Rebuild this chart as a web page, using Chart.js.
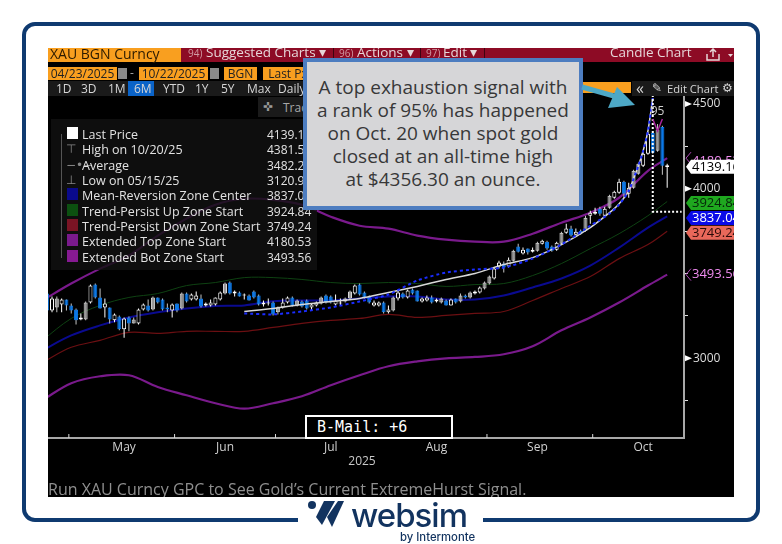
<!DOCTYPE html>
<html>
<head>
<meta charset="utf-8">
<title>XAU BGN Curncy</title>
<script src="https://cdn.jsdelivr.net/npm/chart.js@4"></script>
<style>
html,body{margin:0;padding:0;background:#fff;width:782px;height:544px;overflow:hidden;font-family:"Open Sans",sans-serif}
.abs{position:absolute;white-space:nowrap}
#frame{position:absolute;left:22px;top:22px;width:730px;height:492px;border:4px solid #0f3a70;border-radius:13px}
#panel{position:absolute;left:48px;top:48px;width:686px;height:449px;background:#000;overflow:hidden}
#grafico{position:absolute;left:-10px;top:0}
#panel .abs{font-size:12px;line-height:15px}
.or{background:#f99f1f;color:#222;text-align:center;height:13px;line-height:13px!important;font-size:12px}
.tb{color:#d6d6d6;top:33px}
.red{color:#e6d6d8;font-size:13.5px!important;top:-3px}
.num{color:#d09aa4;font-size:10px!important;top:-2px}
.sep{width:1px;height:14px;top:0;background:#3c0410}
.cal{width:9px;height:11px;top:20px;background:#8a8a8a}
#legend{position:absolute;left:3px;top:71px;width:266px;height:151px;background:rgba(17,17,17,.82)}
#legend .abs{color:#e2e2e2}
#callout{position:absolute;left:303px;top:58px;width:272px;height:130px;border:4px solid #4d7dc0;background:#d6d6d8;color:#383838;font-size:19px;line-height:23px;text-align:center;padding-top:14px;box-sizing:content-box}
#logoGap{position:absolute;left:298px;top:497px;width:185px;height:47px;background:#fff}
</style>
</head>
<body>
<div id="frame"></div>
<div id="panel">
  <canvas id="grafico" width="712" height="449"></canvas>
  <div class="abs" style="left:0;top:0;width:686px;height:14px;background:#8d0b25"></div>
  <div class="abs" style="left:0;top:0;width:133px;height:14px;background:#f99f1f;color:#2a1a00;font-size:14px;line-height:12px;padding-left:2px;box-sizing:border-box">XAU BGN Curncy</div>
  <div class="abs num" style="left:140px">94)</div><div class="abs red" style="left:158px">Suggested Charts &#9662;</div>
  <div class="abs sep" style="left:285px"></div>
  <div class="abs num" style="left:291px">96)</div><div class="abs red" style="left:309px">Actions &#9662;</div>
  <div class="abs sep" style="left:372px"></div>
  <div class="abs num" style="left:378px">97)</div><div class="abs red" style="left:395px">Edit &#9662;</div>
  <div class="abs sep" style="left:436px"></div>
  <div class="abs red" style="left:562px">Candle Chart</div>
  <svg class="abs" style="left:658px;top:0" width="28" height="14">
    <path d="M1 6v6h12V6M7 9V1M4 4l3-3 3 3" fill="none" stroke="#e6d6d8" stroke-width="1.5"/>
    <polygon points="22,6 27,6 24.5,9" fill="#e6d6d8"/>
  </svg>
  <div class="abs or" style="left:0;top:19px;width:69px">04/23/2025</div>
  <div class="abs cal" style="left:70px"></div>
  <div class="abs or" style="left:91px;top:19px;width:69px">10/22/2025</div>
  <div class="abs cal" style="left:162px"></div>
  <div class="abs or" style="left:176px;top:19px;width:33px">BGN</div>
  <div class="abs or" style="left:215px;top:19px;width:50px">Last Px</div>
  <div class="abs" style="left:82px;top:17px;color:#aaa">-</div>
  <div class="abs" style="left:0;top:33px;width:255px;height:15px;background:#1a1a1a"></div>
  <div class="abs" style="left:80px;top:33px;width:26px;height:15px;background:#0a63c8"></div>
  <div class="abs tb" style="left:8px">1D</div><div class="abs tb" style="left:33px">3D</div><div class="abs tb" style="left:60px">1M</div>
  <div class="abs tb" style="left:86px">6M</div><div class="abs tb" style="left:115px">YTD</div><div class="abs tb" style="left:147px">1Y</div>
  <div class="abs tb" style="left:173px">5Y</div><div class="abs tb" style="left:199px">Max</div><div class="abs tb" style="left:230px">Daily</div>
  <div class="abs" style="left:534px;top:34px;width:49px;height:11px;background:#f99f1f"></div>
  <div class="abs" style="left:584px;top:33px;width:102px;height:15px;background:#1a1a1a"></div>
  <div class="abs tb" style="left:588px;font-size:16px!important">&#171;</div><div class="abs tb" style="left:604px;font-family:'DejaVu Sans'">&#9998;</div>
  <div class="abs tb" style="left:619px;font-size:11.2px">Edit Chart</div><div class="abs tb" style="left:674px;font-family:'DejaVu Sans'">&#9881;</div>
  <div class="abs" style="left:210px;top:49px;width:60px;height:20px;background:#1a1a1a;color:#9a9a9a;line-height:20px"></div>
  <div class="abs" style="left:215px;top:52px;color:#9a9a9a;font-family:'DejaVu Sans'">&#10012;</div>
  <div class="abs" style="left:235px;top:52px;color:#a8a8a8">Trac</div>
  <div id="legend"></div>
  <div class="abs" style="left:257px;top:367px;width:144px;height:20px;border:2px solid #fff;background:#000;color:#fff;font:15px/20px 'DejaVu Sans Mono',monospace;text-indent:10px">B-Mail: +6</div>
  <div class="abs" style="left:0;top:431px;color:#8f8f8f;font-size:16px;line-height:20px">Run XAU Curncy GPC to See Gold&#8217;s Current ExtremeHurst Signal.</div>
</div>
<div id="callout">A top exhaustion signal with<br>a rank of 95% has happened<br>on Oct. 20 when spot gold<br>closed at an all-time high<br>at $4356.30 an ounce.</div>
<svg class="abs" style="left:0;top:0" width="782" height="544">
  <line x1="582" y1="87" x2="621" y2="98" stroke="#4da8c6" stroke-width="5"/>
  <polygon points="617,87 608,108 635,105" fill="#4da8c6"/>
</svg>
<div id="logoGap"></div>
<svg class="abs" style="left:0;top:0" width="782" height="544">
  <circle cx="312" cy="505" r="4" fill="#12335f"/>
  <polygon points="324,501 335,501 322,525 316,517" fill="#12335f"/>
  <polygon points="338,501 344,501 332,527 327,517" fill="#12335f"/>
</svg>
<div class="abs" style="left:351px;top:497px;color:#12335f;font:500 33px/36px Inter,Roboto,sans-serif;letter-spacing:-1px">websim</div>
<div class="abs" style="left:400px;top:530px;color:#12335f;font:500 11.3px/14px Inter,Roboto,sans-serif">by Intermonte</div>
<script>
// eje x: dias de mercado
var dates = ['04/23','04/24','04/25','04/28','04/29','04/30',
'05/01','05/02','05/05','05/06','05/07','05/08','05/09','05/12','05/13','05/14','05/15','05/16','05/19','05/20','05/21','05/22','05/23','05/26','05/27','05/28','05/29','05/30',
'06/02','06/03','06/04','06/05','06/06','06/09','06/10','06/11','06/12','06/13','06/16','06/17','06/18','06/19','06/20','06/23','06/24','06/25','06/26','06/27','06/30',
'07/01','07/02','07/03','07/04','07/07','07/08','07/09','07/10','07/11','07/14','07/15','07/16','07/17','07/18','07/21','07/22','07/23','07/24','07/25','07/28','07/29','07/30','07/31',
'08/01','08/04','08/05','08/06','08/07','08/08','08/11','08/12','08/13','08/14','08/15','08/18','08/19','08/20','08/21','08/22','08/25','08/26','08/27','08/28','08/29',
'09/01','09/02','09/03','09/04','09/05','09/08','09/09','09/10','09/11','09/12','09/15','09/16','09/17','09/18','09/19','09/22','09/23','09/24','09/25','09/26','09/29','09/30',
'10/01','10/02','10/03','10/06','10/07','10/08','10/09','10/10','10/13','10/14','10/15','10/16','10/17','10/20','10/21','10/22','10/23','10/24','10/27'];

// velas: h = hueca, g = gris, b = azul
var kinds = ('bbhghbbbhg' + 'hbbhbhbhbg' + 'hhbgbbbhbg' + 'bhhbhhhhgb' + 'hbhbbbhhbg' + 'hhbgbbhhgb' + 'bhhgghbbbh' +
    'hbhghbhbbh' + 'hbhgbhbgbg' + 'hhgghhbhgb' + 'hbhghbbhgh' + 'bhbghhbhgh' + 'hbhgghhbgb' + 'h').split('');
var opens = [3371,3382,3282,3300,3318,3347,3312,3288,3229,3229,3329,3435,3359,3300,3300,3224,3247,3171,3241,3206,3206,3288,3312,3288,3359,3347,3300,3282,3324,3294,3382,3347,3347,3353,3312,3312,3318,3347,3382,3447,3382,3388,3371,3371,3394,3371,3318,3324,3329,3271,3300,3329,3359,3312,3335,3341,3300,3312,3324,3371,3365,3318,3324,3335,3353,3382,3435,3388,3365,3312,3312,3329,3271,3282,3353,3382,3359,3406,3400,3335,3341,3359,3335,3329,3341,3312,3353,3335,3371,3359,3382,3388,3412,3441,3471,3541,3559,3541,3576,3659,3618,3647,3629,3635,3676,3688,3659,3641,3676,3741,3765,3729,3753,3753,3841,3853,3882,3841,3888,3947,3976,4041,3971,4006,4088,4135,4206,4329,4224,4365,4129];
var closes = [3312,3282,3353,3353,3347,3312,3282,3224,3241,3329,3429,3359,3294,3324,3229,3259,3171,3235,3206,3229,3288,3318,3282,3359,3329,3288,3288,3318,3282,3382,3335,3376,3371,3306,3324,3329,3359,3388,3441,3382,3394,3365,3376,3341,3359,3318,3329,3329,3259,3300,3329,3359,3312,3341,3306,3294,3318,3329,3359,3329,3329,3341,3329,3353,3394,3429,3376,3359,3329,3329,3329,3271,3288,3359,3388,3359,3400,3382,3335,3353,3359,3329,3347,3353,3312,3347,3329,3371,3359,3388,3394,3418,3447,3482,3529,3565,3535,3582,3635,3629,3641,3624,3641,3682,3694,3647,3635,3682,3741,3765,3724,3747,3735,3829,3859,3865,3853,3882,3959,3982,4041,3971,4006,4106,4147,4206,4324,4212,4350,4135,4139];
var highs = [3376,3388,3365,3365,3353,3347,3324,3294,3265,3335,3435,3441,3412,3353,3300,3265,3253,3241,3247,3241,3294,3324,3347,3365,3359,3353,3324,3324,3324,3388,3388,3382,3394,3376,3329,3347,3359,3394,3447,3453,3400,3394,3382,3376,3400,3376,3341,3353,3335,3306,3353,3365,3365,3347,3341,3347,3324,3335,3365,3376,3371,3376,3353,3359,3400,3435,3441,3394,3371,3341,3335,3335,3312,3365,3400,3388,3406,3412,3400,3359,3371,3371,3353,3359,3347,3353,3353,3382,3376,3394,3400,3424,3453,3488,3535,3576,3571,3594,3641,3676,3653,3647,3653,3688,3700,3694,3665,3688,3747,3794,3782,3765,3759,3841,3871,3888,3894,3894,3965,3988,4059,4047,4035,4112,4153,4224,4335,4341,4382,4371,4147];
var lows = [3306,3276,3271,3271,3271,3282,3265,3200,3224,3224,3324,3353,3294,3241,3206,3212,3165,3121,3159,3206,3200,3282,3276,3282,3324,3282,3271,3241,3271,3288,3329,3341,3341,3300,3306,3306,3312,3341,3376,3376,3365,3365,3347,3341,3353,3312,3306,3312,3253,3259,3294,3324,3306,3306,3300,3288,3282,3306,3318,3324,3324,3312,3312,3329,3347,3376,3371,3353,3324,3306,3306,3265,3265,3276,3341,3353,3353,3376,3335,3329,3335,3324,3329,3324,3312,3312,3324,3329,3353,3353,3376,3382,3406,3435,3465,3529,3506,3535,3571,3624,3612,3612,3624,3629,3671,3641,3629,3635,3671,3735,3718,3724,3729,3747,3794,3847,3841,3835,3882,3941,3971,3947,3947,4000,4082,4129,4200,4206,4218,4082,4006];

// bandas, leidas cada seis velas
var bandDates = ['04/23','05/01','05/09','05/19','05/27','06/04','06/12','06/20','06/30','07/08','07/16','07/24','08/01','08/11','08/19','08/27','09/04','09/12','09/22','09/30','10/08','10/16','10/22'];
var extTop = [3341,3441,3529,3606,3724,3824,3906,3941,3935,3906,3835,3782,3765,3724,3700,3688,3688,3735,3800,3859,3947,4106,4180.53];
var trendUp = [3106,3235,3312,3359,3382,3429,3447,3476,3476,3465,3447,3441,3447,3441,3424,3435,3441,3488,3559,3647,3735,3841,3924.84];
var meanCenter = [3047,3135,3194,3241,3272,3294,3308,3312,3337,3341,3341,3353,3365,3365,3347,3347,3371,3418,3471,3547,3653,3771,3837.04];
var trendDown = [2976,3065,3106,3153,3147,3159,3159,3159,3182,3206,3224,3235,3259,3241,3253,3265,3276,3341,3412,3482,3588,3671,3749.24];
var extBot = [2753,2853,2894,2900,2831,2782,2735,2703,2735,2776,2841,2900,2953,2982,3000,3008,3024,3071,3165,3241,3329,3429,3493.56];

// curva de tendencia y su copia punteada
var fitDates = ['06/20','06/30','07/08','07/16','07/24','08/01','08/11','08/19','08/27','09/04','09/12','09/22','09/30','10/06','10/08','10/10','10/14','10/15','10/16','10/17'];
var fitWhite = [3276,3294,3318,3335,3353,3388,3424,3465,3500,3553,3594,3671,3771,3859,3912,3988,4135,4224,4341,4535];
var fitBlue = [3265,3259,3276,3300,3335,3376,3459,3506,3524,3535,3588,3671,3782,3853,3906,3988,4135,4224,4341,4535];

// marca de agotamiento y escuadra punteada
var signalDates = ['10/17','10/20','10/21'];
var signalVals = [4412,4341,4412];
var bracketDates = ['10/17','10/17','10/27'];
var bracketVals = [4553,3865,3865];

// ejes
var yTicks = [2750,3000,3250,3500,3750,4000,4250,4500];
var yLabels = [3000,4000,4500];
var monthStarts = ['05/01','06/02','07/01','08/01','09/01','10/01'];
var monthMids = ['05/16','06/16','07/16','08/15','09/15','10/15'];
var monthNames = ['May','Jun','Jul','Aug','Sep','Oct'];

// leyenda
var legendNames = ['Last Price','High on 10/20/25','Average','Low on 05/15/25','Mean-Reversion Zone Center','Trend-Persist Up Zone Start','Trend-Persist Down Zone Start','Extended Top Zone Start','Extended Bot Zone Start'];
var legendVals = ['4139.16','4381.52','3482.29','3120.98','3837.04','3924.84','3749.24','4180.53','3493.56'];
var legendSwatch = ['#fff',null,null,null,'#0a0a8c','#0c5010','#7a1424','#7a1a8c','#861a92'];
var legendGlyph = ['', '\u22A4', '\u2212\u2022\u2212', '\u22A5', '', '', '', '', ''];

var legendBox = document.getElementById('legend');
var html = '<div class="abs" style="left:10px;top:15px;width:1px;height:124px;background:#555"></div>';
for (var i = 0; i < legendNames.length; i++) {
    var rowTop = 8 + i * 15.35;
    if (legendSwatch[i]) {
        html += '<div class="abs" style="left:16px;top:' + rowTop + 'px;width:11px;height:12px;background:' + legendSwatch[i] + '"></div>';
    } else {
        html += '<div class="abs" style="left:15px;top:' + rowTop + 'px;color:#888;font-family:\'DejaVu Sans\'">' + legendGlyph[i] + '</div>';
    }
    html += '<div class="abs" style="left:31px;top:' + rowTop + 'px;font-size:12.5px">' + legendNames[i] + '</div>';
    html += '<div class="abs" style="left:216px;top:' + rowTop + 'px">' + legendVals[i] + '</div>';
}
legendBox.innerHTML = html;

function serie(fechas, valores) {
    var out = [];
    for (var i = 0; i < fechas.length; i++) {
        out.push({x: fechas[i], y: valores[i]});
    }
    return out;
}

var bodyData = [], wickData = [];
for (var j = 0; j < opens.length; j++) {
    bodyData.push([opens[j], closes[j]]);
    wickData.push([lows[j], highs[j]]);
}
var bodyFill = {h: '#000', g: '#9a9a9a', b: '#0a78e8'};
var bodyLine = {h: '#fff', g: '#d8d8d8', b: '#0a78e8'};
var wickLine = {h: '#fff', g: '#c4c4c4', b: '#c4c4c4'};

function banda(nombre, valores, color, ancho) {
    return {type: 'line', label: nombre, data: serie(bandDates, valores), borderColor: color, borderWidth: ancho, pointRadius: 0, tension: 0.35, order: 6};
}

// etiquetas del lado derecho
var tagOverlay = {
    id: 'tagOverlay',
    afterDraw: function(chart) {
        var ctx = chart.ctx, x = chart.scales.x, y = chart.scales.y;
        var paso = x.getPixelForValue(1) - x.getPixelForValue(0);
        ctx.save();
        ctx.fillStyle = '#d8d8d8';
        monthStarts.forEach(function(d) {
            ctx.fillRect(x.getPixelForValue(dates.indexOf(d)) - paso / 2 - 0.5, x.top - 4, 1, 4);
        });
        var ax = chart.chartArea.right;
        ctx.fillStyle = '#fff';
        yLabels.forEach(function(v) {
            var p = y.getPixelForValue(v);
            ctx.beginPath(); ctx.moveTo(ax + 1, p - 3); ctx.lineTo(ax + 8, p); ctx.lineTo(ax + 1, p + 3); ctx.fill();
        });
        ctx.font = '12px "Open Sans"';
        ctx.fillStyle = '#cfcfcf';
        ctx.textAlign = 'center';
        ctx.textBaseline = 'middle';
        ctx.fillText('95', x.getPixelForValue(dates.indexOf('10/20')), y.getPixelForValue(4456));

        ctx.textAlign = 'left';
        ctx.font = '13px "Open Sans"';
        // chevrones de las zonas extendidas
        [[4180.53, 3], [3493.56, 0]].forEach(function(t) {
            var p = y.getPixelForValue(t[0]);
            ctx.strokeStyle = '#b04ab8'; ctx.lineWidth = 1;
            ctx.beginPath(); ctx.moveTo(ax + 7, p - 6); ctx.lineTo(ax + 2, p); ctx.lineTo(ax + 7, p + 6); ctx.stroke();
            ctx.fillStyle = '#f08cf0';
            ctx.fillText(t[0].toFixed(2), ax + 8, p + t[1]);
        });
        var tags = [[4139.16, '#fff', '#000'], [3924.84, '#1fa81f', '#06240a'], [3837.04, '#0a0ae8', '#fff'], [3749.24, '#e8685a', '#2a0a08']];
        tags.forEach(function(t) {
            var p = y.getPixelForValue(t[0]) + 1.5;
            ctx.fillStyle = t[1];
            ctx.beginPath();
            ctx.moveTo(ax + 2, p); ctx.lineTo(ax + 7, p - 7); ctx.lineTo(ax + 66, p - 7); ctx.lineTo(ax + 66, p + 7); ctx.lineTo(ax + 7, p + 7);
            ctx.closePath(); ctx.fill();
            ctx.fillStyle = t[2];
            ctx.fillText(t[0].toFixed(2), ax + 8, p + 0.5);
        });
        ctx.restore();
    }
};

var grafico = new Chart(document.getElementById('grafico'), {
    type: 'bar',
    plugins: [tagOverlay],
    data: {
        labels: dates,
        datasets: [
            {label: 'Wick', data: wickData, barThickness: 1, grouped: false, backgroundColor: kinds.map(function(k) { return wickLine[k]; }), inflateAmount: 0, order: 5},
            {label: 'Last Price', data: bodyData, barThickness: 4, grouped: false, backgroundColor: kinds.map(function(k) { return bodyFill[k]; }), borderColor: kinds.map(function(k) { return bodyLine[k]; }), borderWidth: 1, borderSkipped: false, inflateAmount: 0, order: 4},
            banda('Extended Top Zone Start', extTop, '#7a1a8c', 2.2),
            banda('Trend-Persist Up Zone Start', trendUp, '#0e4212', 1),
            banda('Mean-Reversion Zone Center', meanCenter, '#0a0a90', 2),
            banda('Trend-Persist Down Zone Start', trendDown, '#6b0f12', 1.2),
            banda('Extended Bot Zone Start', extBot, '#7a1a8c', 2.2),
            {type: 'line', label: 'Fit', data: serie(fitDates, fitWhite), borderColor: '#d8d8d8', borderWidth: 1.5, pointRadius: 0, tension: 0.2, order: 3},
            {type: 'line', label: 'Fit dotted', data: serie(fitDates, fitBlue), borderColor: '#1a2cff', borderWidth: 2, borderDash: [3, 3], pointRadius: 0, tension: 0.2, order: 2},
            {type: 'line', label: 'Signal', data: serie(signalDates, signalVals), borderColor: '#a8249c', borderWidth: 1.5, pointRadius: 0, order: 1},
            {type: 'line', label: 'Bracket', data: serie(bracketDates, bracketVals), borderColor: '#fff', borderWidth: 2, borderDash: [2, 2], pointRadius: 0, order: 1}
        ]
    },
    options: {
        responsive: false,
        animation: false,
        layout: {padding: {left: 2, top: 47, right: 0, bottom: 0}},
        plugins: {legend: {display: false}, tooltip: {enabled: false}},
        scales: {
            x: {
                grid: {display: false, drawTicks: false},
                border: {color: '#a8a8a8', width: 2},
                title: {display: true, text: '2025', color: '#c8c8c8', font: {family: 'Open Sans', size: 12}, padding: {top: 0, bottom: 28}},
                ticks: {
                    color: '#d0d0d0', font: {family: 'Open Sans', size: 12}, autoSkip: false, maxRotation: 0, padding: 2,
                    callback: function(v) { return monthNames[monthMids.indexOf(dates[v])]; }
                },
                afterBuildTicks: function(s) {
                    s.ticks = monthMids.map(function(d) { return {value: dates.indexOf(d)}; });
                },
                afterFit: function(s) { s.height = 59; }
            },
            y: {
                position: 'right',
                min: 2530,
                max: 4553,
                grid: {drawOnChartArea: false, color: '#e0e0e0', tickLength: 4},
                border: {color: '#a8a8a8', width: 2},
                ticks: {
                    color: '#dcdcdc', font: {family: 'Open Sans', size: 12}, padding: 5, autoSkip: false,
                    callback: function(v) { return yLabels.indexOf(v) >= 0 ? String(v) : ''; }
                },
                afterBuildTicks: function(s) {
                    s.ticks = yTicks.map(function(v) { return {value: v}; });
                },
                afterFit: function(s) { s.width = 66; }
            }
        }
    }
});
</script>
</body>
</html>
